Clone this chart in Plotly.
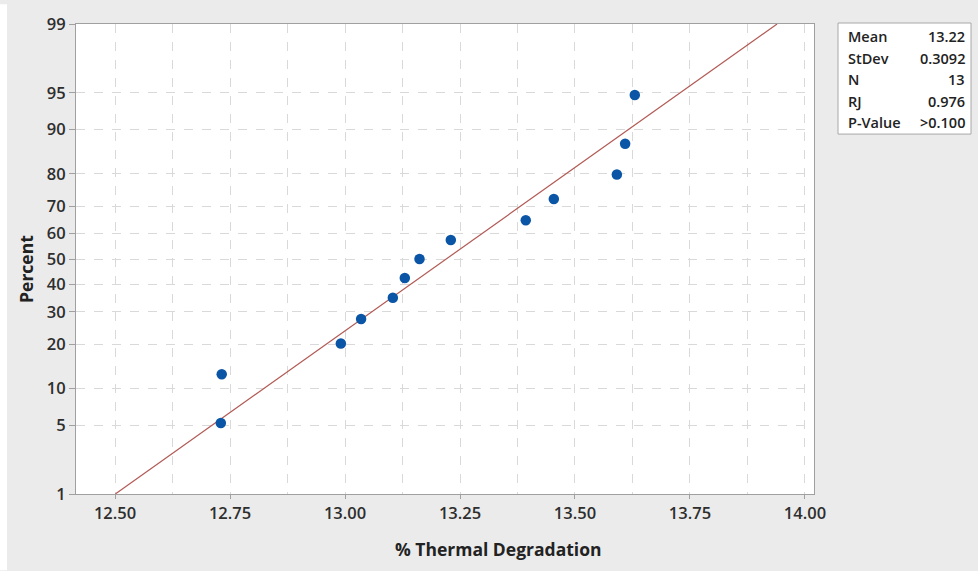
import math
import plotly.graph_objects as go

# ---- data ----
degradation = [12.730, 12.732, 12.991, 13.035, 13.104, 13.130, 13.162,
               13.230, 13.393, 13.454, 13.591, 13.609, 13.630]
percent = [5.22, 12.69, 20.15, 27.61, 35.07, 42.54, 50.0,
           57.46, 64.93, 72.39, 79.85, 87.31, 94.78]
y_tick_values = [1, 5, 10, 20, 30, 40, 50, 60, 70, 80, 90, 95, 99]
x_tick_values = [12.50, 12.75, 13.00, 13.25, 13.50, 13.75, 14.00]
stat_labels = ["Mean", "StDev", "N", "RJ", "P-Value"]
stat_values = ["13.22", "0.3092", "13", "0.976", ">0.100"]
fit_mean = 13.22
fit_sd = 0.3092
fit_percent = [1, 99]
x_title = "% Thermal Degradation"
y_title = "Percent"


def norm_ppf(p):
    """Inverse standard normal CDF (Acklam's approximation)."""
    a = [-3.969683028665376e+01, 2.209460984245205e+02, -2.759285104469687e+02,
         1.383577518672690e+02, -3.066479806614716e+01, 2.506628277459239e+00]
    b = [-5.447609879822406e+01, 1.615858368580409e+02, -1.556989798598866e+02,
         6.680131188771972e+01, -1.328068155288572e+01]
    c = [-7.784894002430293e-03, -3.223964580411365e-01, -2.400758277161838e+00,
         -2.549732539343734e+00, 4.374664141464968e+00, 2.938163982698783e+00]
    d = [7.784695709041462e-03, 3.224671290700398e-01, 2.445134137142996e+00,
         3.754408661907416e+00]
    plow = 0.02425
    if p < plow:
        q = math.sqrt(-2 * math.log(p))
        return (((((c[0]*q+c[1])*q+c[2])*q+c[3])*q+c[4])*q+c[5]) / \
               ((((d[0]*q+d[1])*q+d[2])*q+d[3])*q+1)
    if p > 1 - plow:
        q = math.sqrt(-2 * math.log(1 - p))
        return -(((((c[0]*q+c[1])*q+c[2])*q+c[3])*q+c[4])*q+c[5]) / \
                ((((d[0]*q+d[1])*q+d[2])*q+d[3])*q+1)
    q = p - 0.5
    r = q * q
    return (((((a[0]*r+a[1])*r+a[2])*r+a[3])*r+a[4])*r+a[5])*q / \
           (((((b[0]*r+b[1])*r+b[2])*r+b[3])*r+b[4])*r+1)


def zq(pct):
    return norm_ppf(pct / 100.0)


y_pts = [zq(p) for p in percent]
fit_z = [zq(p) for p in fit_percent]
fit_x = [fit_mean + z * fit_sd for z in fit_z]

W, H = 978, 571
ML, MR, MT, MB = 76, 164, 20, 77

fig = go.Figure()
fig.add_trace(go.Scatter(
    x=fit_x, y=fit_z, mode="lines",
    line=dict(color="#b25a55", width=1.2),
    showlegend=False, hoverinfo="skip"))
fig.add_trace(go.Scatter(
    x=degradation, y=y_pts, mode="markers",
    marker=dict(color="#0a55a5", size=10.5),
    showlegend=False))

zmax = zq(99)
fig.update_layout(
    width=W, height=H,
    paper_bgcolor="#ebebeb", plot_bgcolor="white",
    margin=dict(l=ML, r=MR, t=MT, b=MB),
    font=dict(family="Open Sans, Noto Sans, sans-serif", color="#333333"),
    xaxis=dict(
        range=[12.4152, 14.0196],
        tickvals=x_tick_values,
        ticktext=[f"{v:.2f}" for v in x_tick_values],
        tickfont=dict(size=16.5, color="#2e2e2e", weight=600),
        showgrid=True, gridcolor="#d9d9d9", griddash="dash", gridwidth=1,
        minor=dict(dtick=0.125, tick0=12.5, showgrid=True, gridcolor="#d9d9d9",
                   griddash="dash", gridwidth=1),
        showline=True, linecolor="#a0a0a0", linewidth=1, mirror=True,
        ticks="outside", ticklen=4, tickcolor="#a0a0a0",
        zeroline=False,
    ),
    yaxis=dict(
        range=[-zmax, zmax],
        tickvals=[zq(v) for v in y_tick_values],
        ticktext=[str(v) for v in y_tick_values],
        tickfont=dict(size=16.5, color="#2e2e2e", weight=600),
        showgrid=True, gridcolor="#d9d9d9", griddash="dash", gridwidth=1,
        showline=True, linecolor="#a0a0a0", linewidth=1, mirror=True,
        ticks="outside", ticklen=6, tickcolor="#a0a0a0",
        zeroline=False,
    ),
)

pw = W - ML - MR
ph = H - MT - MB


def px_x(px):
    return (px - ML) / pw


def px_y(py):
    return (H - MB - py) / ph


# axis titles placed as in the reference
fig.add_annotation(xref="paper", yref="paper", x=px_x(498), y=px_y(549),
                   text=f"<b>{x_title}</b>", showarrow=False,
                   xanchor="center", yanchor="middle",
                   font=dict(size=17.5, color="#222222"))
fig.add_annotation(xref="paper", yref="paper", x=px_x(26), y=px_y(267),
                   text=f"<b>{y_title}</b>", showarrow=False, textangle=-90,
                   xanchor="center", yanchor="middle",
                   font=dict(size=17.5, color="#222222"))

# white strip on the far left, as in the reference screenshot
fig.add_shape(type="rect", xref="paper", yref="paper", layer="below",
              x0=px_x(0), x1=px_x(7), y0=px_y(H), y1=px_y(0),
              fillcolor="white", line=dict(width=0))

# statistics box
fig.add_shape(type="rect", xref="paper", yref="paper",
              x0=px_x(838), x1=px_x(971), y0=px_y(131), y1=px_y(19),
              fillcolor="white", line=dict(color="#a8a8a8", width=1))
row_y = [33, 55, 76, 98, 119]
for lab, val, ry in zip(stat_labels, stat_values, row_y):
    fig.add_annotation(xref="paper", yref="paper", x=px_x(846), y=px_y(ry),
                       text=lab, showarrow=False, xanchor="left", yanchor="middle",
                       font=dict(size=14.5, color="#222222", weight=600))
    fig.add_annotation(xref="paper", yref="paper", x=px_x(967), y=px_y(ry),
                       text=val, showarrow=False, xanchor="right", yanchor="middle",
                       font=dict(size=14.5, color="#222222", weight=600))

fig.write_html("out.html", config={"displayModeBar": False},
               post_script="document.body.style.margin='0';")
